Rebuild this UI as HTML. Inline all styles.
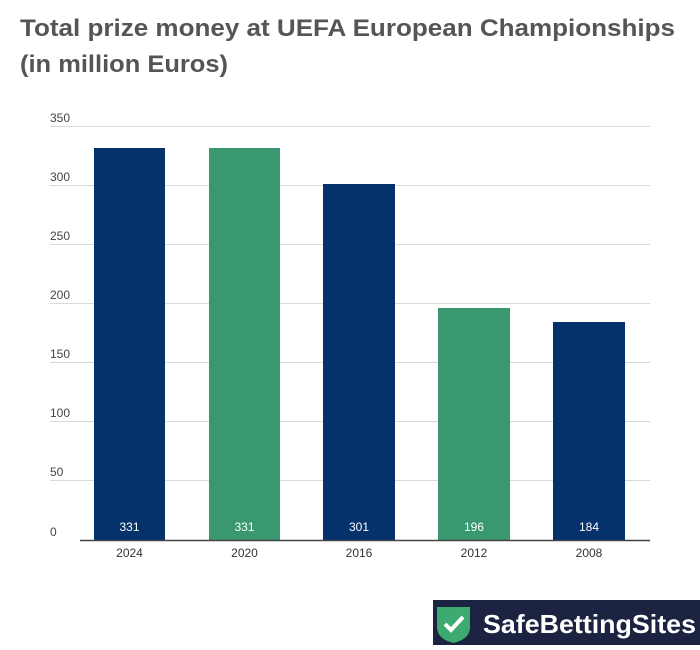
<!DOCTYPE html>
<html><head><style>
body{margin:0;width:700px;height:645px;background:#fff;overflow:hidden;font-family:"Liberation Sans",sans-serif}
</style></head><body>
<svg width="700" height="645" xmlns="http://www.w3.org/2000/svg" font-family="Liberation Sans, sans-serif">
<text x="20" y="36" font-size="24" font-weight="bold" fill="#555" textLength="655" lengthAdjust="spacingAndGlyphs">Total prize money at UEFA European Championships</text>
<text x="20" y="72" font-size="24" font-weight="bold" fill="#555" textLength="208" lengthAdjust="spacingAndGlyphs">(in million Euros)</text>
<g stroke="#d9d9d9" stroke-width="1">
<line x1="50" x2="650" y1="126.5" y2="126.5"/><line x1="50" x2="650" y1="185.5" y2="185.5"/>
<line x1="50" x2="650" y1="244.5" y2="244.5"/><line x1="50" x2="650" y1="303.5" y2="303.5"/>
<line x1="50" x2="650" y1="362.5" y2="362.5"/><line x1="50" x2="650" y1="421.5" y2="421.5"/>
<line x1="50" x2="650" y1="480.5" y2="480.5"/>
</g>
<g font-size="12" fill="#444">
<text x="50" y="122">350</text><text x="50" y="181">300</text><text x="50" y="240">250</text>
<text x="50" y="299">200</text><text x="50" y="358">150</text><text x="50" y="417">100</text>
<text x="50" y="476">50</text><text x="50" y="536">0</text>
</g>
<rect x="94" y="148" width="71" height="392" fill="#06326b"/>
<rect x="209" y="148" width="71" height="392" fill="#3a9870"/>
<rect x="323" y="184" width="72" height="356" fill="#06326b"/>
<rect x="438" y="308" width="72" height="232" fill="#3a9870"/>
<rect x="553" y="322" width="72" height="218" fill="#06326b"/>
<line x1="80" x2="650" y1="540.5" y2="540.5" stroke="#444" stroke-width="1.5"/>
<g font-size="12" fill="#fff" text-anchor="middle">
<text x="129.5" y="531">331</text><text x="244.5" y="531">331</text><text x="359" y="531">301</text>
<text x="474" y="531">196</text><text x="589" y="531">184</text>
</g>
<g font-size="12" fill="#333" text-anchor="middle">
<text x="129.5" y="557">2024</text><text x="244.5" y="557">2020</text><text x="359" y="557">2016</text>
<text x="474" y="557">2012</text><text x="589" y="557">2008</text>
</g>
<rect x="433" y="600" width="267" height="45" fill="#1b2340"/>
<path d="M437 607 L470 607 L470 627 Q470 639 453.5 643 Q437 639 437 627 Z" fill="#3dab6f"/>
<path d="M445 624 L451 630 L463 617" stroke="#fff" stroke-width="4" fill="none"/>
<text x="483" y="633" font-size="26" font-weight="bold" fill="#fff" textLength="213" lengthAdjust="spacingAndGlyphs">SafeBettingSites</text>
</svg>
</body></html>
